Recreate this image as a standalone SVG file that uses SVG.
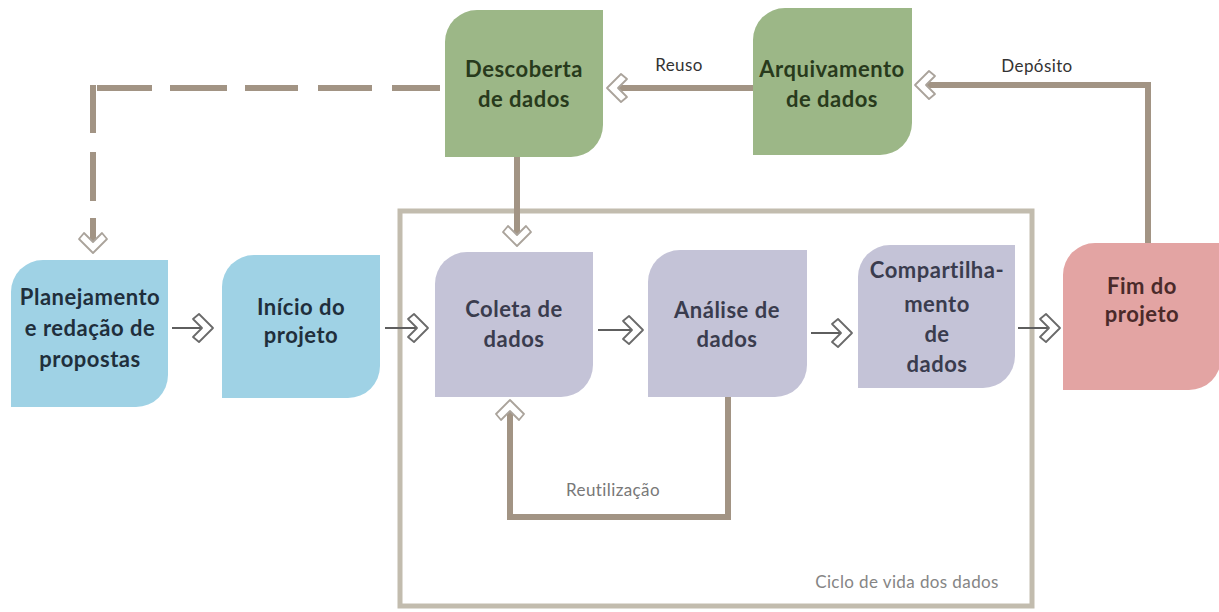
<svg xmlns="http://www.w3.org/2000/svg" xmlns:xlink="http://www.w3.org/1999/xlink" width="1219" height="612" viewBox="0 0 1219 612">
<style>
.lbl{font-family:Lato,"Open Sans","Liberation Sans",sans-serif;font-weight:bold;font-size:22px;letter-spacing:0.5px;text-anchor:middle}
.blue{fill:#9fd2e5}.green{fill:#9cb787}.purple{fill:#c4c3d7}.red{fill:#e3a4a3}
.tblue{fill:#1f2f3c}.tgreen{fill:#283a1c}.tpurple{fill:#3a3c4e}.tred{fill:#4a2a2a}
.thin{stroke:#5e5e5e;stroke-width:2;fill:none}
.thick{stroke:#a29484;stroke-width:6;fill:none}
.chev{fill:#fff;stroke:#6a6a6a;stroke-width:1.8;stroke-linejoin:round}
.chevb{fill:#fff;stroke:#aaa39b;stroke-width:1.8;stroke-linejoin:round}
.small{font-family:Lato,"Open Sans","Liberation Sans",sans-serif;font-size:17px;letter-spacing:0.4px;text-anchor:middle}
</style>
<defs>
<path id="chv" d="M0,0 L-14,-14 L-20,-9 L-11,0 L-20,9 L-14,14 Z"/>
</defs>
<rect width="1219" height="612" fill="#ffffff"/>
<g id="ciclo">
<rect x="400" y="211" width="632" height="395" fill="none" stroke="#c2bcae" stroke-width="5"/>
<text class="small" x="907" y="588" fill="#858585">Ciclo de vida dos dados</text>
</g>
<g id="connectors">
<line class="thin" x1="172" y1="328" x2="202" y2="328"/>
<use xlink:href="#chv" class="chev" transform="translate(213,328)"/>
<line class="thin" x1="385" y1="328" x2="417" y2="328"/>
<use xlink:href="#chv" class="chev" transform="translate(428,328)"/>
<line class="thin" x1="598" y1="330" x2="632" y2="330"/>
<use xlink:href="#chv" class="chev" transform="translate(643,330)"/>
<line class="thin" x1="811" y1="333" x2="841" y2="333"/>
<use xlink:href="#chv" class="chev" transform="translate(852,333)"/>
<line class="thin" x1="1018" y1="328" x2="1049" y2="328"/>
<use xlink:href="#chv" class="chev" transform="translate(1060,328)"/>
<path class="thick" d="M440,88 H392 M372,88 H318 M298,88 H245 M227,88 H170 M152,88 H97 M93,85 V133 M93,152 V201 M93,218 V242"/>
<use xlink:href="#chv" class="chevb" transform="translate(93,253) rotate(90)"/>
<path class="thick" d="M517,157 V235"/>
<use xlink:href="#chv" class="chevb" transform="translate(517,246) rotate(90)"/>
<path class="thick" d="M753,88 H616"/>
<use xlink:href="#chv" class="chevb" transform="translate(607,88) rotate(180)"/>
<text class="small" x="679" y="71" fill="#333">Reuso</text>
<path class="thick" d="M1148,243 V85 H924"/>
<use xlink:href="#chv" class="chevb" transform="translate(915,85) rotate(180)"/>
<text class="small" x="1037" y="72" fill="#333">Depósito</text>
<path class="thick" d="M728,397 V517 H510 V410"/>
<use xlink:href="#chv" class="chevb" transform="translate(510,400) rotate(-90)"/>
<text class="small" x="613" y="496" fill="#787878">Reutilização</text>
</g>
<g id="planejamento">
<path class="blue" d="M43,260 H168 V375 A32,32 0 0 1 136,407 H11 V292 A32,32 0 0 1 43,260 Z"/>
<text class="lbl tblue" x="90" y="305">Planejamento</text>
<text class="lbl tblue" x="90" y="336">e redação de</text>
<text class="lbl tblue" x="90" y="367">propostas</text>
</g>
<g id="inicio">
<path class="blue" d="M254,255 H380 V366 A32,32 0 0 1 348,398 H222 V287 A32,32 0 0 1 254,255 Z"/>
<text class="lbl tblue" x="301" y="315">Início do</text>
<text class="lbl tblue" x="301" y="343">projeto</text>
</g>
<g id="coleta">
<path class="purple" d="M467,252 H593 V365 A32,32 0 0 1 561,397 H435 V284 A32,32 0 0 1 467,252 Z"/>
<text class="lbl tpurple" x="514" y="317">Coleta de</text>
<text class="lbl tpurple" x="514" y="347">dados</text>
</g>
<g id="analise">
<path class="purple" d="M680,250 H807 V365 A32,32 0 0 1 775,397 H648 V282 A32,32 0 0 1 680,250 Z"/>
<text class="lbl tpurple" x="727" y="318">Análise de</text>
<text class="lbl tpurple" x="727" y="347">dados</text>
</g>
<g id="compartilhamento">
<path class="purple" d="M890,245 H1015 V356 A32,32 0 0 1 983,388 H858 V277 A32,32 0 0 1 890,245 Z"/>
<text class="lbl tpurple" x="937" y="278">Compartilha-</text>
<text class="lbl tpurple" x="937" y="312">mento</text>
<text class="lbl tpurple" x="937" y="342">de</text>
<text class="lbl tpurple" x="937" y="372">dados</text>
</g>
<g id="fim">
<path class="red" d="M1095,243 H1221 V358 A32,32 0 0 1 1189,390 H1063 V275 A32,32 0 0 1 1095,243 Z"/>
<text class="lbl tred" x="1142" y="294">Fim do</text>
<text class="lbl tred" x="1142" y="322">projeto</text>
</g>
<g id="descoberta">
<path class="green" d="M477,10 H603 V125 A32,32 0 0 1 571,157 H445 V42 A32,32 0 0 1 477,10 Z"/>
<text class="lbl tgreen" x="524" y="77">Descoberta</text>
<text class="lbl tgreen" x="524" y="107">de dados</text>
</g>
<g id="arquivamento">
<path class="green" d="M785,8 H912 V123 A32,32 0 0 1 880,155 H753 V40 A32,32 0 0 1 785,8 Z"/>
<text class="lbl tgreen" x="832" y="77">Arquivamento</text>
<text class="lbl tgreen" x="832" y="107">de dados</text>
</g>
</svg>
